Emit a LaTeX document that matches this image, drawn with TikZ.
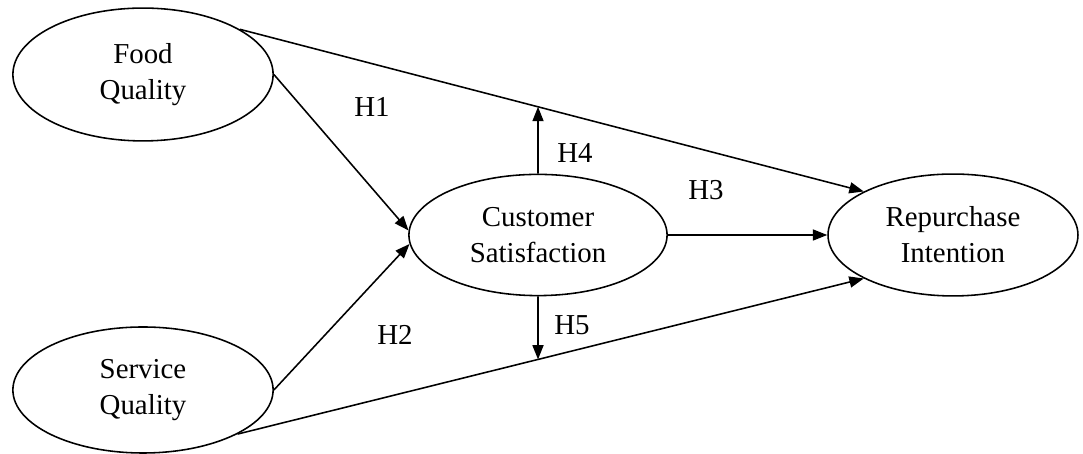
\documentclass[tikz,border=0pt]{standalone}
\usepackage{fontspec}
\setmainfont{Liberation Serif}
\usetikzlibrary{shapes.geometric,arrows.meta}

\begin{document}
\begin{tikzpicture}[x=0.0146cm, y=-0.0146cm,
        construct/.style={draw, ellipse, inner sep=0pt, line width=0.65pt, align=center,
            font=\fontsize{12}{14.9}\selectfont},
        hyp/.style={font=\fontsize{12}{14.9}\selectfont},
        link/.style={-{Triangle[length=6pt,width=4.6pt]}, line width=0.65pt}]
        \useasboundingbox (0,0) rectangle (1083,454);

        \node[construct, minimum width=3.80cm, minimum height=1.94cm] (food) at (143,74.5) {Food\\Quality};
        \node[construct, minimum width=3.80cm, minimum height=1.84cm] (svc) at (143,390) {Service\\Quality};
        \node[construct, minimum width=3.77cm, minimum height=1.77cm] (cs) at (538,235) {Customer\\Satisfaction};
        \node[construct, minimum width=3.65cm, minimum height=1.78cm] (ri) at (953,235) {Repurchase\\Intention};

        \draw[link] (food.east) -- (cs.178);
        \draw[link] (svc.east) -- (cs.184);
        \draw[link] (food.25) -- (ri.154);
        \draw[link] (svc.-25) -- (ri.206);
        \draw[link] (cs.east) -- (ri.west);

        \coordinate (h4end) at (intersection of food.25--ri.154 and cs.north--cs.center);
        \coordinate (h5end) at (intersection of svc.-25--ri.206 and cs.south--cs.center);
        \draw[link] (cs.north) -- (h4end);
        \draw[link] (cs.south) -- (h5end);

        \node[hyp] (h1) at (372,107) {H1};
        \node[hyp] (h2) at (395,335) {H2};
        \node[hyp] (h3) at (706,190) {H3};
        \node[hyp] (h4) at (575,153) {H4};
        \node[hyp] (h5) at (572,325) {H5};

    \end{tikzpicture}
\end{document}
